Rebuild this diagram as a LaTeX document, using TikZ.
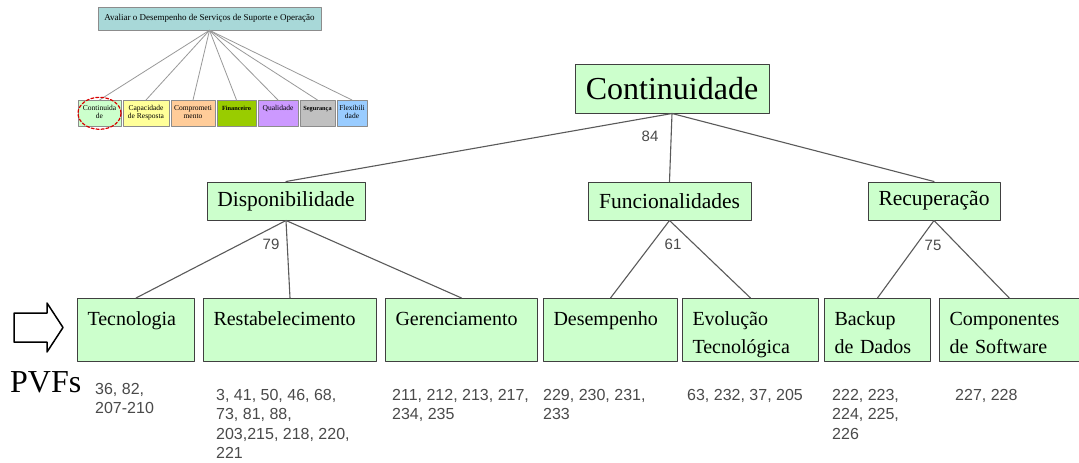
\documentclass[tikz,border=0pt]{standalone}
\usepackage{fontspec}
\setmainfont{Liberation Serif}
\newfontfamily\arialf{Liberation Sans}
\usepackage{pgf,tikz}
\usetikzlibrary{arrows}
\definecolor{verdeclaro}{HTML}{CCFFCC}
\definecolor{linha}{HTML}{5A5A5A}
\definecolor{numcor}{HTML}{4A4A4A}
\definecolor{turquesa}{HTML}{A8D8D8}
\definecolor{amarelo}{HTML}{FFFF99}
\definecolor{laranja}{HTML}{FFCC99}
\definecolor{verdeforte}{HTML}{99CC00}
\definecolor{lilas}{HTML}{CC99FF}
\definecolor{cinza}{HTML}{C0C0C0}
\definecolor{azul}{HTML}{99CCFF}
\newcommand{\pvftxt}[2]{\rule{0pt}{27pt}#1\\\rule[-8pt]{0pt}{8pt}#2}

\begin{document}
\begin{tikzpicture}[line cap=round,line join=round,x=1pt,y=-1pt,
  raiz/.style={draw=black!75,line width=1pt,fill=verdeclaro,font=\fontsize{32}{32}\selectfont,minimum width=194pt,minimum height=49pt,inner sep=0pt},
  meio/.style={draw=black!75,line width=1pt,fill=verdeclaro,font=\fontsize{21.5}{22}\selectfont,minimum height=38pt,inner sep=0pt},
  folha/.style={draw=black!75,line width=1pt,fill=verdeclaro,font=\fontsize{20}{28}\selectfont,anchor=north west,align=left,inner xsep=10pt,inner ysep=0pt,minimum height=63pt},
  liga/.style={draw=linha,line width=1.1pt},
  peso/.style={font=\arialf\fontsize{15}{15}\selectfont,text=numcor,inner sep=0pt},
  lista/.style={font=\arialf\fontsize{16}{19.5}\selectfont,text=numcor,anchor=north west,align=left,inner sep=0pt},
  mini/.style={draw=black!45,line width=0.6pt,font=\fontsize{7.5}{7.8}\selectfont,align=center,anchor=north,minimum height=26pt,inner sep=0pt},
  miniliga/.style={draw=black!40,line width=0.8pt}]
\useasboundingbox (0,0) rectangle (1079,463);
\fill[white] (0,0) rectangle (1079,463);
\node[draw=black!45,line width=0.6pt,fill=turquesa,minimum width=223pt,minimum height=23pt,inner sep=0pt,font=\fontsize{9}{9}\selectfont] (aval) at (209.5,18.5) {Avaliar o Desempenho de Serviços de Suporte e Operação};
\node[mini,fill=verdeclaro,minimum width=43pt] (mcont) at (99.5,100) {\strut Continuida\\\strut de};
\node[mini,fill=amarelo,minimum width=46pt] (mcap) at (146,100) {\strut Capacidade\\\strut de Resposta};
\node[mini,fill=laranja,minimum width=44pt] (mcomp) at (193,100) {\strut Comprometi\\\strut mento};
\node[mini,fill=verdeforte,minimum width=39pt,font=\fontsize{6.3}{7.8}\selectfont\bfseries] (mfin) at (236.5,100) {\strut Financeiro\\\strut};
\node[mini,fill=lilas,minimum width=40pt] (mqual) at (278,100) {\strut Qualidade\\\strut};
\node[mini,fill=cinza,minimum width=35pt,font=\fontsize{6.3}{7.8}\selectfont\bfseries] (mseg) at (317.5,100) {\strut Segurança\\\strut};
\node[mini,fill=azul,minimum width=30pt] (mflex) at (352,100) {\strut Flexibili\\\strut dade};
\draw[miniliga] (aval.south) -- (mcont.north);
\draw[miniliga] (aval.south) -- (mcap.north);
\draw[miniliga] (aval.south) -- (mcomp.north);
\draw[miniliga] (aval.south) -- (mfin.north);
\draw[miniliga] (aval.south) -- (mqual.north);
\draw[miniliga] (aval.south) -- (mseg.north);
\draw[miniliga] (aval.south) -- (mflex.north);
\draw[red!85!black,line width=1.2pt,dash pattern=on 3pt off 2pt] (mcont.center) ellipse (21.5 and 16);
\node[raiz] (cont) at (672,88.5) {Continuidade};
\node[meio,minimum width=158pt] (disp) at (286,201) {Disponibilidade};
\node[meio,minimum width=163pt] (func) at (669.5,201) {Funcionalidades};
\node[meio,minimum width=132pt] (recu) at (934,201) {Recuperação};
\node[folha,text width=97pt] (tec) at (77,298) {\pvftxt{Tecnologia}{}};
\node[folha,text width=153pt] (rest) at (203,298) {\pvftxt{Restabelecimento}{}};
\node[folha,text width=132pt] (ger) at (385,298) {\pvftxt{Gerenciamento}{}};
\node[folha,text width=114pt] (des) at (543,298) {\pvftxt{Desempenho}{}};
\node[folha,text width=116pt] (evo) at (682,298) {\pvftxt{Evolução}{Tecnológica}};
\node[folha,text width=86pt] (bkp) at (824,298) {\pvftxt{Backup}{de Dados}};
\node[folha,text width=119.5pt] (comp) at (939,298) {\pvftxt{Componentes}{de Software}};
\draw[liga] (cont.south) -- (disp.north);
\draw[liga] (cont.south) -- (func.north);
\draw[liga] (cont.south) -- (recu.north);
\draw[liga] (disp.south) -- (tec.north);
\draw[liga] (disp.south) -- (rest.north);
\draw[liga] (disp.south) -- (ger.north);
\draw[liga] (func.south) -- (des.north);
\draw[liga] (func.south) -- (evo.north);
\draw[liga] (recu.south) -- (bkp.north);
\draw[liga] (recu.south) -- (comp.north);
\node[peso] (p84) at (650,136) {84};
\node[peso] (p79) at (271,244) {79};
\node[peso] (p61) at (673,244) {61};
\node[peso] (p75) at (933,245) {75};
\draw[line width=1.5pt] (14,313) -- (47,313) -- (47,303) -- (63,327.5) -- (47,352) -- (47,342) -- (14,342) -- cycle;
\node[anchor=base west,inner sep=0pt,font=\fontsize{32}{32}\selectfont] (pvfs) at (10,392) {PVFs};
\node[lista] (ltec) at (95,383) {36, 82,\\207-210};
\node[lista] (lrest) at (216,389) {3, 41, 50, 46, 68,\\73, 81, 88,\\203,215, 218, 220,\\221};
\node[lista] (lger) at (392,389) {211, 212, 213, 217,\\234, 235};
\node[lista] (ldes) at (543,389) {229, 230, 231,\\233};
\node[lista] (levo) at (687,389) {63, 232, 37, 205};
\node[lista] (lbkp) at (832,389) {222, 223,\\224, 225,\\226};
\node[lista] (lcomp) at (955,389) {227, 228};
\end{tikzpicture}
\end{document}
